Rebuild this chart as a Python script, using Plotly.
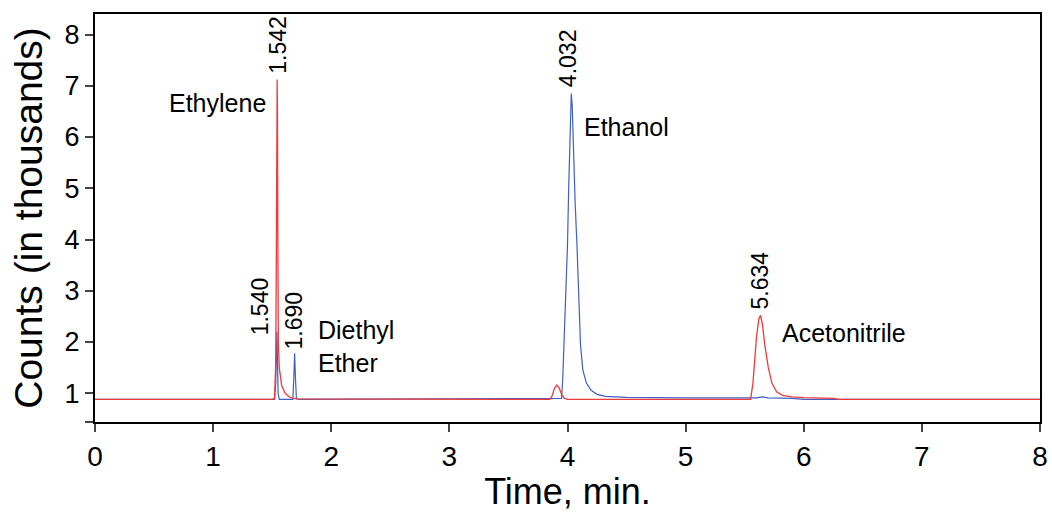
import plotly.graph_objects as go

# Red trace (time in min, counts in thousands)
red_time = [0.0, 1.50, 1.52, 1.530, 1.536, 1.540, 1.542, 1.544, 1.548, 1.552, 1.56, 1.58, 1.61, 1.65, 1.70,
            3.85, 3.87, 3.89, 3.91, 3.93, 3.95, 3.97, 4.00,
            5.55, 5.57, 5.60, 5.62, 5.634, 5.65, 5.67, 5.70, 5.73, 5.77, 5.82, 5.90, 6.00, 6.25, 6.30, 8.0]
red_counts = [0.88, 0.88, 0.90, 1.60, 4.00, 6.60, 7.12, 6.60, 4.00, 2.00, 1.50, 1.15, 1.00, 0.92, 0.89,
              0.88, 0.95, 1.10, 1.16, 1.10, 0.98, 0.91, 0.88,
              0.88, 1.20, 2.10, 2.45, 2.52, 2.35, 1.95, 1.50, 1.20, 1.03, 0.96, 0.93, 0.915, 0.90, 0.88, 0.88]

# Blue trace
blue_time = [0.0, 1.52, 1.530, 1.536, 1.540, 1.545, 1.550, 1.560, 1.675, 1.683, 1.690, 1.697, 1.705, 1.72,
             3.95, 3.96, 3.98, 4.00, 4.01, 4.025, 4.032, 4.04, 4.05, 4.065, 4.08, 4.095, 4.11, 4.13, 4.16,
             4.20, 4.25, 4.32, 4.50, 5.00, 5.50, 5.60, 5.65, 5.70, 5.90, 6.00, 8.0]
blue_counts = [0.88, 0.88, 1.20, 1.90, 2.20, 1.60, 1.00, 0.88, 0.88, 1.30, 1.78, 1.30, 0.90, 0.88,
               0.90, 1.30, 2.50, 3.90, 5.00, 6.50, 6.85, 6.60, 5.60, 4.70, 3.90, 2.80, 1.95, 1.45, 1.20,
               1.06, 0.98, 0.94, 0.92, 0.91, 0.90, 0.91, 0.93, 0.91, 0.90, 0.88, 0.88]

# Peak retention-time labels
peak_labels = ["1.542", "1.540", "1.690", "4.032", "5.634"]
peak_x = [1.542, 1.52, 1.686, 4.01, 5.63]
peak_y = [7.12, 2.20, 1.78, 6.85, 2.52]
peak_anchor = ["center", "right", "center", "center", "center"]
peak_shift = [4, -6, 2, 4, 4]

# Compound names
compound_names = ["Ethylene", "Diethyl<br>Ether", "Ethanol", "Acetonitrile"]
compound_x = [1.465, 1.87, 4.12, 5.80]
compound_y = [6.67, 1.92, 6.20, 2.17]
compound_anchor = ["right", "left", "left", "left"]

y_tickvals = [0.44, 1, 2, 3, 4, 5, 6, 7, 8]
y_ticktext = ["", "1", "2", "3", "4", "5", "6", "7", "8"]
x_tickvals = [0, 1, 2, 3, 4, 5, 6, 7, 8]

FONT = "Liberation Sans, Arial, sans-serif"

fig = go.Figure()
fig.add_trace(go.Scatter(x=blue_time, y=blue_counts, mode="lines",
                         line=dict(color="#3f5fc4", width=1.2), showlegend=False))
fig.add_trace(go.Scatter(x=red_time, y=red_counts, mode="lines",
                         line=dict(color="#f03a3a", width=1.3), showlegend=False))

for t, x, y, a, s in zip(peak_labels, peak_x, peak_y, peak_anchor, peak_shift):
    fig.add_annotation(x=x, y=y, text=t, textangle=-90, showarrow=False,
                       xanchor=a, yanchor="bottom", yshift=s,
                       font=dict(family=FONT, size=23, color="black"))

for t, x, y, a in zip(compound_names, compound_x, compound_y, compound_anchor):
    fig.add_annotation(x=x, y=y, text=t, showarrow=False, xanchor=a, yanchor="middle",
                       align="left", font=dict(family=FONT, size=25, color="black"))

fig.update_layout(
    width=1052, height=512,
    margin=dict(l=95, r=12, t=14, b=90, autoexpand=False),
    paper_bgcolor="white", plot_bgcolor="white",
    font=dict(family=FONT, color="black"),
)
fig.update_xaxes(range=[0, 8], tickvals=x_tickvals, ticks="outside", ticklen=8, tickwidth=2,
                 showline=True, linecolor="black", linewidth=2, mirror=True, showgrid=False,
                 zeroline=False, tickfont=dict(size=28), automargin=False,
                 title=dict(text="Time, min.", font=dict(size=36), standoff=6))
fig.update_yaxes(range=[0.44, 8.4], tickvals=y_tickvals, ticktext=y_ticktext, ticks="outside",
                 ticklen=8, tickwidth=2, showline=True, linecolor="black", linewidth=2, mirror=True,
                 showgrid=False, zeroline=False, tickfont=dict(size=27), automargin=False,
                 title=dict(text="Counts (in thousands)", font=dict(size=39), standoff=10))

fig.write_html("out.html")
